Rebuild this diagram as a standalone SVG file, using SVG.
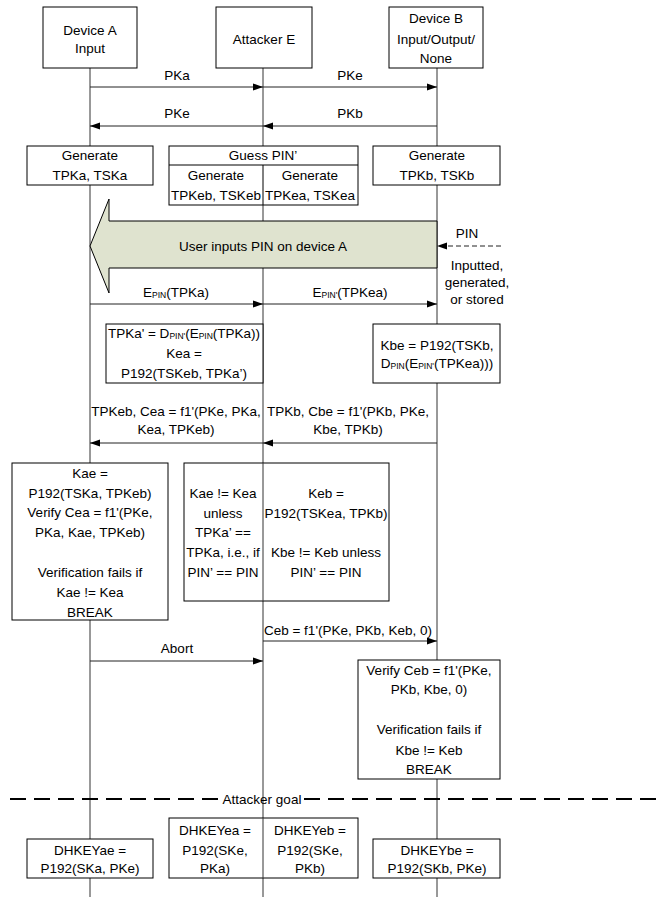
<svg xmlns="http://www.w3.org/2000/svg" width="656" height="897" viewBox="0 0 656 897">
<style>
text{font-family:"Liberation Sans",Arial,sans-serif;font-size:13.5px;fill:#000;text-anchor:middle}
.box{fill:#fff;stroke:#000;stroke-width:1}
.life{stroke:#333;stroke-width:1}
.msg{stroke:#222;stroke-width:1;fill:none;marker-end:url(#ah)}
.sub{font-size:8.5px}
</style>
<defs>
<marker id="ah" markerUnits="userSpaceOnUse" markerWidth="12" markerHeight="8" refX="10" refY="4" orient="auto">
<path d="M0,0.5 L10,4 L0,7.5 Z" fill="#000"/>
</marker>
</defs>
<rect width="656" height="897" fill="#fff"/>
<g id="lifelines">
<line class="life" x1="90" y1="68" x2="90" y2="897"/>
<line class="life" x1="263" y1="68" x2="263" y2="897"/>
<line class="life" x1="437" y1="68" x2="437" y2="897"/>
</g>
<g id="deviceA"><rect class="box" x="43" y="7" width="94" height="61"/><text x="90" y="35">Device A</text><text x="90" y="53">Input</text></g>
<g id="attackerE"><rect class="box" x="216" y="7" width="96" height="61"/><text x="264" y="44">Attacker E</text></g>
<g id="deviceB"><rect class="box" x="389" y="7" width="94" height="61"/><text x="436" y="23">Device B</text><text x="436" y="44">Input/Output/</text><text x="436" y="63">None</text></g>
<g id="connectors">
<line class="msg" x1="90" y1="87" x2="263" y2="87"/>
<line class="msg" x1="263" y1="87" x2="437" y2="87"/>
<line class="msg" x1="263" y1="126" x2="90" y2="126"/>
<line class="msg" x1="437" y1="126" x2="263" y2="126"/>
<line class="msg" x1="90" y1="304" x2="263" y2="304"/>
<line class="msg" x1="263" y1="304" x2="437" y2="304"/>
<line class="msg" x1="263" y1="443" x2="90" y2="443"/>
<line class="msg" x1="437" y1="443" x2="263" y2="443"/>
<line class="msg" x1="263" y1="641" x2="437" y2="641"/>
<line class="msg" x1="90" y1="661" x2="263" y2="661"/>
<line class="msg" x1="501" y1="246" x2="437" y2="246" stroke-dasharray="5 3"/>
<line x1="10" y1="799" x2="220" y2="799" stroke="#000" stroke-width="2" stroke-dasharray="16 8"/>
<line x1="304" y1="799" x2="656" y2="799" stroke="#000" stroke-width="2" stroke-dasharray="16 8"/>
</g>
<g id="labels">
<text x="177" y="80">PKa</text>
<text x="350" y="80">PKe</text>
<text x="177" y="118">PKe</text>
<text x="350" y="118">PKb</text>
<text x="176" y="297">E<tspan class="sub" dy="1">PIN</tspan><tspan dy="-1">(TPKa)</tspan></text>
<text x="350" y="297">E<tspan class="sub" dy="1">PIN'</tspan><tspan dy="-1">(TPKea)</tspan></text>
<text x="467" y="238">PIN</text>
<text x="477" y="270">Inputted,</text>
<text x="477" y="287">generated,</text>
<text x="477" y="304">or stored</text>
<text x="176" y="416">TPKeb, Cea = f1'(PKe, PKa,</text>
<text x="176" y="434">Kea, TPKeb)</text>
<text x="348" y="416">TPKb, Cbe = f1'(PKb, PKe,</text>
<text x="348" y="434">Kbe, TPKb)</text>
<text x="348" y="635">Ceb = f1'(PKe, PKb, Keb, 0)</text>
<text x="177" y="653">Abort</text>
<text x="262" y="804">Attacker goal</text>
</g>
<g id="bigArrow">
<path d="M90,246 L109,199 L109,221 L437,221 L437,268 L109,268 L109,293 Z" fill="#dfe3cf" stroke="#000" stroke-width="1"/>
<text x="263" y="251">User inputs PIN on device A</text>
</g>
<g id="genA"><rect class="box" x="27" y="146" width="126" height="39"/><text x="90" y="160">Generate</text><text x="90" y="180">TPKa, TSKa</text></g>
<g id="guessPIN"><rect class="box" x="169" y="146" width="189" height="59"/><line x1="169" y1="165" x2="358" y2="165" stroke="#000"/><line x1="263" y1="165" x2="263" y2="205" stroke="#000"/>
<text x="263" y="160">Guess PIN’</text><text x="216" y="180">Generate</text><text x="216" y="200">TPKeb, TSKeb</text><text x="310" y="180">Generate</text><text x="310" y="200">TPKea, TSKea</text></g>
<g id="genB"><rect class="box" x="373" y="146" width="127" height="39"/><text x="437" y="160">Generate</text><text x="437" y="180">TPKb, TSKb</text></g>
<g id="tpkaBox"><rect class="box" x="106" y="324" width="157" height="59"/>
<text x="184" y="338">TPKa' = D<tspan class="sub" dy="1">PIN'</tspan><tspan dy="-1">(E</tspan><tspan class="sub" dy="1">PIN</tspan><tspan dy="-1">(TPKa))</tspan></text>
<text x="184" y="358">Kea =</text><text x="184" y="378">P192(TSKeb, TPKa’)</text></g>
<g id="kbeBox"><rect class="box" x="373" y="324" width="127" height="59"/>
<text x="437" y="350">Kbe = P192(TSKb,</text>
<text x="437" y="368">D<tspan class="sub" dy="1">PIN</tspan><tspan dy="-1">(E</tspan><tspan class="sub" dy="1">PIN'</tspan><tspan dy="-1">(TPKea)))</tspan></text></g>
<g id="kaeBox"><rect class="box" x="12" y="463" width="156" height="157"/>
<text x="90" y="478">Kae =</text><text x="90" y="498">P192(TSKa, TPKeb)</text><text x="90" y="517">Verify Cea = f1'(PKe,</text><text x="90" y="537">PKa, Kae, TPKeb)</text>
<text x="90" y="577">Verification fails if</text><text x="90" y="597">Kae != Kea</text><text x="90" y="617">BREAK</text></g>
<g id="midBox"><rect class="box" x="184" y="463" width="205" height="138"/><line x1="263" y1="463" x2="263" y2="601" stroke="#333"/>
<text x="223" y="498">Kae != Kea</text><text x="223" y="518">unless</text><text x="223" y="537">TPKa’ ==</text><text x="223" y="557">TPKa, i.e., if</text><text x="223" y="577">PIN’ == PIN</text>
<text x="326" y="498">Keb =</text><text x="326" y="518">P192(TSKea, TPKb)</text><text x="326" y="557">Kbe != Keb unless</text><text x="326" y="577">PIN’ == PIN</text></g>
<g id="verifyB"><rect class="box" x="358" y="660" width="142" height="119"/>
<text x="429" y="675">Verify Ceb = f1'(PKe,</text><text x="429" y="694">PKb, Kbe, 0)</text><text x="429" y="734">Verification fails if</text><text x="429" y="755">Kbe != Keb</text><text x="429" y="774">BREAK</text></g>
<g id="dhA"><rect class="box" x="27" y="839" width="126" height="39"/><text x="90" y="855">DHKEYae =</text><text x="90" y="873">P192(SKa, PKe)</text></g>
<g id="dhE"><rect class="box" x="169" y="818" width="189" height="60"/><line x1="263" y1="818" x2="263" y2="878" stroke="#333"/>
<text x="215" y="835">DHKEYea =</text><text x="215" y="855">P192(SKe,</text><text x="215" y="873">PKa)</text>
<text x="310" y="835">DHKEYeb =</text><text x="310" y="855">P192(SKe,</text><text x="310" y="873">PKb)</text></g>
<g id="dhB"><rect class="box" x="373" y="839" width="127" height="39"/><text x="437" y="855">DHKEYbe =</text><text x="437" y="873">P192(SKb, PKe)</text></g>
</svg>
